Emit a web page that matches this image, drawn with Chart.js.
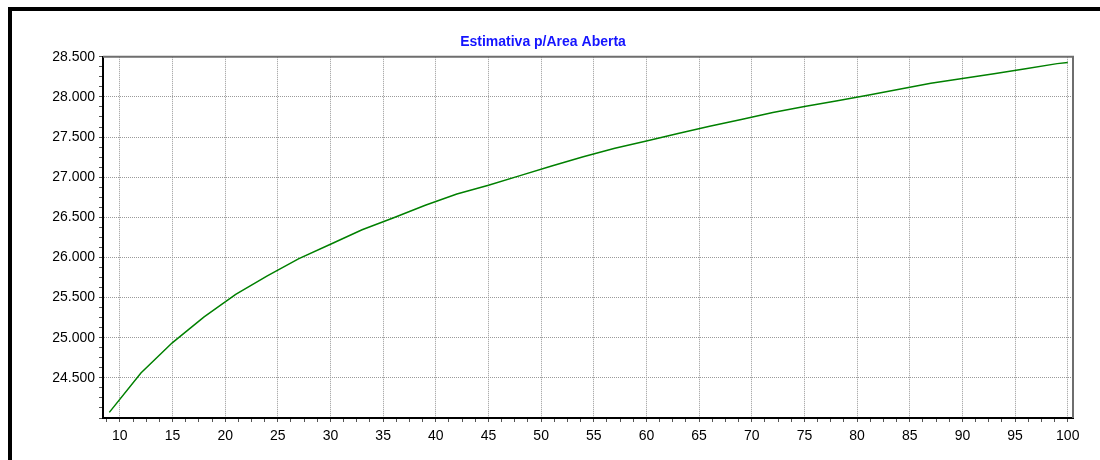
<!DOCTYPE html>
<html>
<head>
<meta charset="utf-8">
<script src="https://cdn.jsdelivr.net/npm/chart.js@4/dist/chart.umd.min.js"></script>
<style>
  html, body { margin: 0; padding: 0; background: #fff; }
  .wrap { position: relative; width: 1100px; height: 460px; }
  .frame {
    position: absolute; left: 8px; top: 7px; right: 0; bottom: 0;
    border-left: 4px solid #000; border-top: 4px solid #000;
  }
  .wrap canvas { position: absolute; left: 0; top: 0; }
</style>
</head>
<body>
<div class="wrap">
  <div class="frame"></div>
  <canvas id="myChart"></canvas>
</div>
<script>
'use strict'

const title = 'Estimativa p/Area Aberta';

const xValues = [9, 12, 15, 18, 21, 24, 27, 30, 33, 36, 39, 42, 45, 48, 51, 54,
                 57, 60, 63, 66, 69, 72, 75, 78, 81, 84, 87, 90, 93, 96, 99, 100];
const areaValues = [24070, 24560, 24940, 25260, 25540, 25770, 25985, 26165, 26345, 26495,
                    26650, 26790, 26900, 27020, 27140, 27255, 27360, 27450, 27545, 27635,
                    27720, 27805, 27880, 27950, 28020, 28095, 28170, 28230, 28290, 28350,
                    28415, 28428];

const xTickLabels = [10, 15, 20, 25, 30, 35, 40, 45, 50, 55, 60, 65, 70, 75, 80, 85, 90, 95, 100];
const yTickLabels = [24500, 25000, 25500, 26000, 26500, 27000, 27500, 28000, 28500];

const points = xValues.map((x, i) => ({ x: x, y: areaValues[i] }));

const formatThousands = v => Math.floor(v / 1000) + '.' + String(v % 1000).padStart(3, '0');

// minor ticks: 4 per major step
function minorTicks(from, to, step) {
  const arr = [];
  for (let v = from; v <= to + 1e-9; v += step) arr.push({ value: v });
  return arr;
}

const plotFrame = {
  id: 'plotFrame',
  afterDraw(chart) {
    const { ctx, chartArea: a } = chart;
    ctx.save();
    ctx.strokeStyle = '#6e6e6e';
    ctx.lineWidth = 2;
    ctx.beginPath();
    ctx.moveTo(a.left, a.top);
    ctx.lineTo(a.right, a.top);
    ctx.lineTo(a.right, a.bottom);
    ctx.stroke();
    ctx.restore();
  }
};

const ctx = document.querySelector('#myChart');

new Chart(ctx, {
  type: 'line',
  data: {
    datasets: [{
      label: title,
      data: points,
      borderColor: '#008000',
      borderWidth: 1.5,
      pointRadius: 0,
      fill: false,
      tension: 0
    }]
  },
  options: {
    responsive: true,
    maintainAspectRatio: false,
    animation: false,
    layout: {
      padding: { left: 13, top: 0, right: 27, bottom: 12 }
    },
    scales: {
      x: {
        type: 'linear',
        min: 8.4,
        max: 100.5,
        afterBuildTicks: scale => { scale.ticks = minorTicks(8.75, 100, 1.25); },
        afterFit: scale => { scale.height = 30; },
        ticks: {
          autoSkip: false,
          maxRotation: 0,
          padding: 6,
          color: '#000',
          font: { family: 'Liberation Sans, Arial, sans-serif', size: 14 },
          callback: v => xTickLabels.includes(v) ? String(v) : ''
        },
        grid: {
          color: c => (c.tick && xTickLabels.includes(c.tick.value)) ? '#9a9a9a' : 'rgba(0,0,0,0)',
          tickColor: '#555',
          tickLength: 4,
          lineWidth: 1
        },
        border: { color: '#000', width: 2, dash: [1, 1] }
      },
      y: {
        min: 24000,
        max: 28500,
        afterBuildTicks: scale => { scale.ticks = minorTicks(24000, 28500, 125); },
        afterFit: scale => { scale.width = 90; },
        ticks: {
          autoSkip: false,
          padding: 4,
          color: '#000',
          font: { family: 'Liberation Sans, Arial, sans-serif', size: 14 },
          callback: v => yTickLabels.includes(v) ? formatThousands(v) : ''
        },
        grid: {
          color: c => (c.tick && yTickLabels.includes(c.tick.value)) ? '#9a9a9a' : 'rgba(0,0,0,0)',
          tickColor: '#555',
          tickLength: 4,
          lineWidth: 1
        },
        border: { color: '#000', width: 2, dash: [1, 1] }
      }
    },
    plugins: {
      legend: { display: false },
      tooltip: { enabled: false },
      title: {
        display: true,
        text: title,
        color: '#1414ff',
        font: { family: 'Liberation Sans, Arial, sans-serif', size: 14, weight: 'bold' },
        padding: { top: 34, bottom: 6 }
      }
    }
  },
  plugins: [plotFrame]
});
</script>
</body>
</html>
